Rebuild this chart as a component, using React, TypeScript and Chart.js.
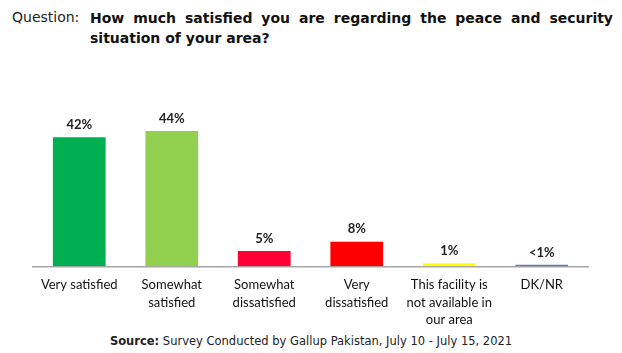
import React, { useEffect, useRef } from "react";
import { Chart, registerables } from "chart.js";

Chart.register(...registerables);

const categories: string[][] = [
  ["Very satisfied"],
  ["Somewhat", "satisfied"],
  ["Somewhat", "dissatisfied"],
  ["Very", "dissatisfied"],
  ["This facility is", "not available in", "our area"],
  ["DK/NR"],
];
const values: number[] = [42, 44, 5, 8, 1, 0.5];
const valueLabels: string[] = ["42%", "44%", "5%", "8%", "1%", "<1%"];
const barColors: string[] = ["#00b050", "#92d050", "#ff0033", "#ff0000", "#ffff00", "#5a7dbf"];

const labelPlugin = {
  id: "valueLabels",
  afterDatasetsDraw(chart: any) {
    const ctx = chart.ctx;
    const meta = chart.getDatasetMeta(0);
    ctx.save();
    ctx.font = "bold 13px Lato";
    ctx.fillStyle = "#222222";
    ctx.textAlign = "center";
    ctx.textBaseline = "bottom";
    meta.data.forEach((bar: any, i: number) => {
      ctx.fillText(valueLabels[i], bar.x, bar.y - 6);
    });
    ctx.restore();
  },
};

export default function App() {
  const ref = useRef<HTMLCanvasElement | null>(null);
  useEffect(() => {
    document.body.style.margin = "0";
    const chart = new Chart(ref.current as HTMLCanvasElement, {
      type: "bar",
      data: {
        labels: categories,
        datasets: [
          {
            data: values,
            backgroundColor: barColors,
            barPercentage: 0.57,
            categoryPercentage: 1,
          },
        ],
      },
      options: {
        responsive: false,
        animation: false,
        layout: { padding: { left: 33, right: 34, top: 40, bottom: 0 } },
        plugins: { legend: { display: false }, tooltip: { enabled: false } },
        scales: {
          x: {
            grid: { display: false },
            border: { display: true, color: "#a6a6a6", width: 1.5 },
            ticks: {
              color: "#111111",
              font: { family: "Lato", size: 13, lineHeight: 1.35 },
              padding: 2,
              maxRotation: 0,
              autoSkip: false,
            },
          },
          y: { display: false, min: 0, max: 53.8 },
        },
      },
      plugins: [labelPlugin],
    });
    return () => chart.destroy();
  }, []);

  return (
    <div style={{ position: "relative", width: 622, height: 353, background: "#fff", overflow: "hidden" }}>
      <div
        style={{
          position: "absolute",
          left: 12,
          top: 9,
          fontFamily: "DejaVu Sans",
          fontSize: 14,
          color: "#222",
        }}
      >
        Question:
      </div>
      <div
        style={{
          position: "absolute",
          left: 90,
          top: 8,
          width: 523,
          fontFamily: "DejaVu Sans",
          fontWeight: "bold",
          fontSize: 14,
          lineHeight: "20px",
          color: "#111",
          textAlign: "justify",
          textAlignLast: "left",
        }}
      >
        How much satisfied you are regarding the peace and security situation of your area?
      </div>
      <canvas
        ref={ref}
        width={622}
        height={270}
        style={{ position: "absolute", left: 0, top: 61, width: 622, height: 270 }}
      />
      <div
        style={{
          position: "absolute",
          left: 0,
          top: 334,
          width: 622,
          textAlign: "center",
          fontFamily: "DejaVu Sans",
          fontSize: 11.5,
          color: "#222",
        }}
      >
        <b>Source:</b> Survey Conducted by Gallup Pakistan, July 10 - July 15, 2021
      </div>
    </div>
  );
}
